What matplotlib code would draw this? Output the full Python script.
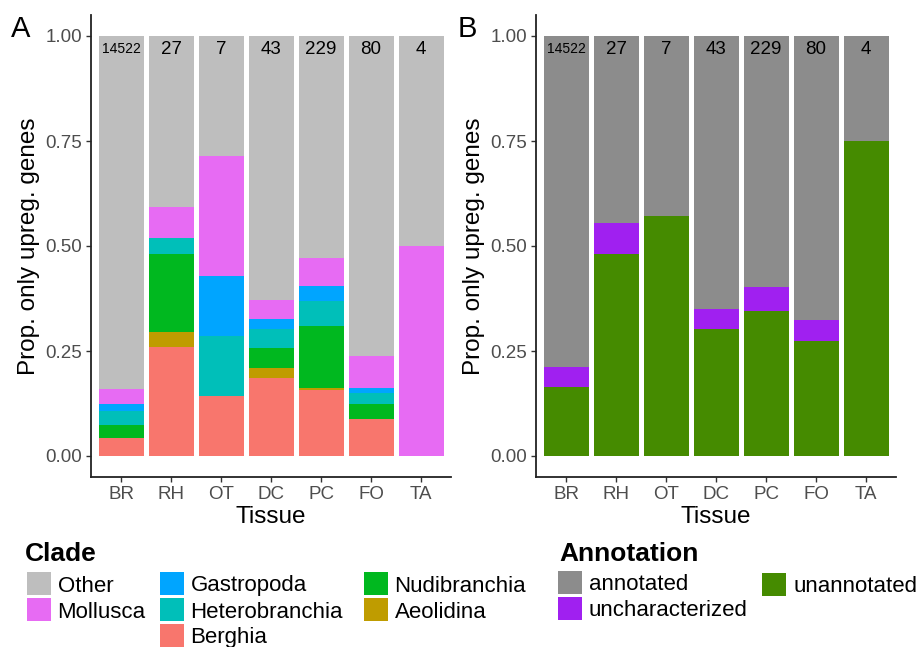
import matplotlib
matplotlib.use("Agg")
import matplotlib.pyplot as plt
from matplotlib.patches import Rectangle
import numpy as np

plt.rcParams['font.family'] = ['Liberation Sans', 'DejaVu Sans']

tissues = ["BR", "RH", "OT", "DC", "PC", "FO", "TA"]
gene_counts = ["14522", "27", "7", "43", "229", "80", "4"]

# Panel A: proportion of genes per clade (stacked bottom -> top)
clades = ["Berghia", "Aeolidina", "Nudibranchia", "Heterobranchia", "Gastropoda", "Mollusca", "Other"]
clade_colors = ["#F8766D", "#BF9C00", "#00B81F", "#00BFB9", "#00A5FF", "#E76BF3", "#BEBEBE"]
berghia        = [0.042, 0.259, 0.143, 0.186, 0.157, 0.0875, 0.0]
aeolidina      = [0.000, 0.037, 0.000, 0.023, 0.004, 0.0,    0.0]
nudibranchia   = [0.032, 0.185, 0.000, 0.047, 0.148, 0.0375, 0.0]
heterobranchia = [0.033, 0.037, 0.143, 0.046, 0.061, 0.025,  0.0]
gastropoda     = [0.016, 0.000, 0.143, 0.024, 0.035, 0.0125, 0.0]
mollusca       = [0.037, 0.074, 0.285, 0.046, 0.066, 0.075,  0.5]
clade_values = [berghia, aeolidina, nudibranchia, heterobranchia, gastropoda, mollusca]

# Panel B: annotation status (stacked bottom -> top)
annotations = ["unannotated", "uncharacterized", "annotated"]
annot_colors = ["#458B00", "#A020F0", "#8C8C8C"]
unannotated     = [0.165, 0.481, 0.571, 0.302, 0.345, 0.275, 0.75]
uncharacterized = [0.046, 0.074, 0.000, 0.047, 0.057, 0.050, 0.0]
annot_values = [unannotated, uncharacterized]

W, H = 921, 647
fig = plt.figure(figsize=(W / 100, H / 100), dpi=100)

def fx(px):
    return px / W

def fy(py):
    return 1 - py / H

axA = fig.add_axes([fx(91), fy(477), fx(451) - fx(91), fy(15) - fy(477)])
axB = fig.add_axes([fx(536), fy(477), fx(896) - fx(536), fy(15) - fy(477)])

x = np.arange(len(tissues))

def stack(ax, values_list, colors):
    bottom = np.zeros(len(tissues))
    for vals, col in zip(values_list, colors[:-1]):
        v = np.array(vals, dtype=float)
        ax.bar(x, v, bottom=bottom, width=0.9, color=col, linewidth=0)
        bottom += v
    ax.bar(x, 1 - bottom, bottom=bottom, width=0.9, color=colors[-1], linewidth=0)

stack(axA, clade_values, clade_colors)
stack(axB, annot_values, annot_colors)

for ax, letter in [(axA, "A"), (axB, "B")]:
    ax.set_xlim(-0.6, len(tissues) - 0.4)
    ax.set_ylim(-0.05, 1.05)
    ax.set_xticks(x)
    ax.set_xticklabels(tissues)
    ax.set_yticks([0, 0.25, 0.5, 0.75, 1.0])
    ax.set_yticklabels(["0.00", "0.25", "0.50", "0.75", "1.00"])
    ax.tick_params(axis='both', colors="#333333", labelcolor="#4D4D4D",
                   labelsize=13.5, length=3.5, width=1, pad=3)
    for s in ["top", "right"]:
        ax.spines[s].set_visible(False)
    for s in ["left", "bottom"]:
        ax.spines[s].set_linewidth(1.3)
        ax.spines[s].set_color("#222222")
    ax.set_xlabel("Tissue", fontsize=17.5, labelpad=2)
    ax.set_ylabel("Prop. only upreg. genes", fontsize=17.5, labelpad=4)
    for i, c in enumerate(gene_counts):
        ax.text(x[i], 0.968, c, ha="center", va="center",
                fontsize=10 if len(c) > 3 else 13.5, color="black")

fig.text(fx(11), fy(29), "A", fontsize=21, va="center", ha="left")
fig.text(fx(458), fy(29), "B", fontsize=21, va="center", ha="left")

# Legends drawn manually
def key(xl, yt, color, label):
    fig.patches.append(Rectangle((fx(xl), fy(yt + 23)), fx(24), 23 / H,
                                 transform=fig.transFigure, facecolor=color,
                                 edgecolor="none"))
    fig.text(fx(xl + 31), fy(yt + 14), label, fontsize=16, va="center", ha="left")

fig.text(fx(25), fy(554), "Clade", fontsize=19, fontweight="bold", va="center", ha="left")
clade_layout = {"Other": (26.5, 572), "Mollusca": (26.5, 598),
                "Gastropoda": (159.5, 572), "Heterobranchia": (159.5, 598), "Berghia": (159.5, 624),
                "Nudibranchia": (363.5, 572), "Aeolidina": (363.5, 598)}
for name, col in zip(clades, clade_colors):
    xl, yt = clade_layout[name]
    key(xl, yt, col, name)

fig.text(fx(559), fy(554), "Annotation", fontsize=19, fontweight="bold", va="center", ha="left")
annot_layout = {"annotated": (558, 571), "uncharacterized": (558, 597), "unannotated": (762, 573)}
for name, col in zip(annotations, annot_colors):
    xl, yt = annot_layout[name]
    key(xl, yt, col, name)

fig.savefig("out.png", dpi=100)
